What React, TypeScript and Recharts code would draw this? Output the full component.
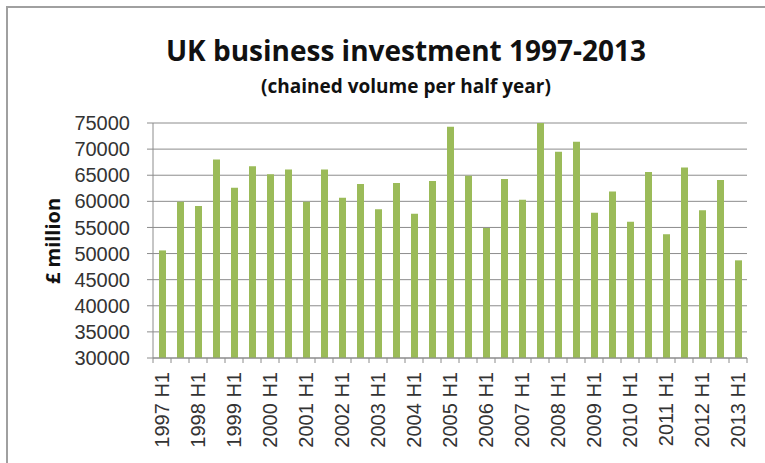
import React from 'react'
import { BarChart, Bar, XAxis, YAxis, CartesianGrid } from 'recharts'

// half-year periods, 1997 H1 .. 2013 H1
const periods = [
  '1997 H1', '1997 H2', '1998 H1', '1998 H2', '1999 H1', '1999 H2', '2000 H1', '2000 H2',
  '2001 H1', '2001 H2', '2002 H1', '2002 H2', '2003 H1', '2003 H2', '2004 H1', '2004 H2',
  '2005 H1', '2005 H2', '2006 H1', '2006 H2', '2007 H1', '2007 H2', '2008 H1', '2008 H2',
  '2009 H1', '2009 H2', '2010 H1', '2010 H2', '2011 H1', '2011 H2', '2012 H1', '2012 H2',
  '2013 H1',
]
// £ million, chained volume
const investment = [
  50600, 59900, 59100, 68000, 62600, 66700, 65200, 66100,
  59900, 66100, 60700, 63300, 58500, 63500, 57600, 63900,
  74300, 64900, 54900, 64300, 60300, 75000, 69500, 71400,
  57800, 61900, 56100, 65600, 53700, 66500, 58300, 64100,
  48700,
]
const yTicks = [30000, 35000, 40000, 45000, 50000, 55000, 60000, 65000, 70000, 75000]

const data = periods.map((p, i) => ({ period: p, value: investment[i] }))

const FONT = '"Open Sans", "DejaVu Sans", sans-serif'
const AXIS_GREY = '#8c8c8c'

const PeriodTick = (props: any) => {
  const { x, y, payload } = props
  const idx = payload.index
  const half = payload.offset ?? 9
  return (
    <g>
      <line x1={x - half} x2={x - half} y1={y} y2={y + 5} stroke={AXIS_GREY} />
      {idx === periods.length - 1 && (
        <line x1={x + half} x2={x + half} y1={y} y2={y + 5} stroke={AXIS_GREY} />
      )}
      {idx % 2 === 0 && (
        <text
          transform={`translate(${x},${y + 14}) rotate(-90)`}
          textAnchor="end"
          dominantBaseline="central"
          fontSize={20}
          fontFamily="'Liberation Sans', Arial, sans-serif"
          fill="#333"
        >
          {payload.value}
        </text>
      )}
    </g>
  )
}

export default function App() {
  return (
    <div style={{ position: 'absolute', left: 0, top: 0, width: 765, height: 463, background: '#fff' }}>
      <div
        style={{
          position: 'absolute', left: 6, top: 6, width: 759, height: 457,
          borderTop: '2px solid #a0a0a0', borderLeft: '2px solid #a0a0a0',
        }}
      />
      <BarChart
        width={765}
        height={463}
        data={data}
        margin={{ top: 123, right: 18, left: 0, bottom: 0 }}
        barCategoryGap={0}
      >
        <CartesianGrid vertical={false} stroke={AXIS_GREY} />
        <XAxis
          dataKey="period"
          interval={0}
          height={105}
          tickSize={0}
          tickMargin={0}
          tickLine={false}
          axisLine={{ stroke: AXIS_GREY }}
          tick={<PeriodTick />}
        />
        <YAxis
          width={153}
          domain={[30000, 75000]}
          ticks={yTicks}
          interval={0}
          allowDataOverflow
          tickSize={6}
          tickMargin={17}
          tickLine={{ stroke: AXIS_GREY }}
          axisLine={{ stroke: AXIS_GREY }}
          tick={{ fontSize: 20, fill: '#333', fontFamily: "'Liberation Sans', Arial, sans-serif" }}
        />
        <Bar dataKey="value" fill="#9bbb59" barSize={7} isAnimationActive={false} />
      </BarChart>
      <svg
        width={765}
        height={463}
        style={{ position: 'absolute', left: 0, top: 0, pointerEvents: 'none' }}
      >
        <text x={406} y={61} textAnchor="middle" fontFamily={FONT} fontWeight={700} fontSize={28} fill="#111">
          UK business investment 1997-2013
        </text>
        <text x={406} y={93} textAnchor="middle" fontFamily={FONT} fontWeight={700} fontSize={19} fill="#111">
          (chained volume per half year)
        </text>
        <text
          transform="translate(52,241) rotate(-90)"
          textAnchor="middle"
          dominantBaseline="central"
          fontFamily={FONT}
          fontWeight={700}
          fontSize={20}
          fill="#111"
        >
          £ million
        </text>
      </svg>
    </div>
  )
}
